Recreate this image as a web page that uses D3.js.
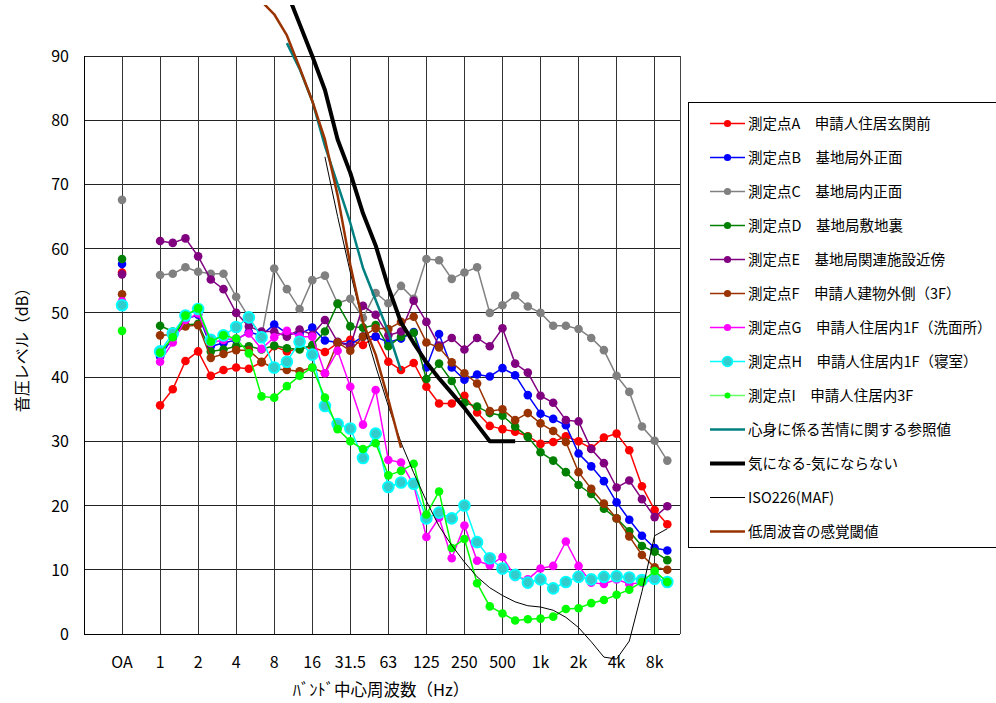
<!DOCTYPE html>
<html>
<head>
<meta charset="utf-8">
<script src="https://cdn.jsdelivr.net/npm/d3@7"></script>
<style>
  body { margin: 0; background: #fff; }
  svg { display: block; }
  text { font-family: "Noto Sans CJK JP", "Noto Sans", sans-serif; fill: #000; }
</style>
</head>
<body>
<svg id="chart" width="996" height="703"></svg>
<script>
// 1/3オクターブバンド (1Hz - 10kHz)
var bands = ["1","1.25","1.6","2","2.5","3.15","4","5","6.3","8","10","12.5","16","20","25","31.5","40","50","63","80",
  "100","125","160","200","250","315","400","500","630","800","1k","1.25k","1.6k","2k","2.5k","3.15k","4k","5k","6.3k","8k","10k"];
var tickLabels = ["OA","1","2","4","8","16","31.5","63","125","250","500","1k","2k","4k","8k"];
var yTicks = [0,10,20,30,40,50,60,70,80,90];

var seriesNames = [
  "測定点A　申請人住居玄関前",
  "測定点B　基地局外正面",
  "測定点C　基地局内正面",
  "測定点D　基地局敷地裏",
  "測定点E　基地局関連施設近傍",
  "測定点F　申請人建物外側（3F）",
  "測定点G　申請人住居内1F（洗面所）",
  "測定点H　申請人住居内1F（寝室）",
  "測定点I　申請人住居内3F"
];

// OA値
var oaValues = [56.3, 57.6, 67.6, 58.4, 56.0, 52.9, 51.8, 51.2, 47.2];

var pointA = [35.6,38.1,42.5,44.0,40.2,41.1,41.5,41.3,42.3,44.8,44.0,44.5,44.7,43.9,45.3,45.8,45.0,46.3,42.4,41.1,
  42.2,38.5,35.9,35.9,37.1,34.5,32.4,31.9,31.5,30.8,29.6,29.9,30.8,30.0,28.9,30.6,31.2,28.6,23.0,19.3,17.1];
var pointB = [43.2,46.1,49.0,49.7,44.8,45.3,45.8,47.0,46.5,48.2,46.8,46.7,47.7,45.7,45.4,45.1,46.3,46.3,45.4,46.0,
  47.0,41.5,46.7,41.5,39.6,40.4,40.1,41.4,40.3,37.2,34.3,33.5,32.5,28.1,26.1,23.8,20.5,17.8,15.3,13.4,13.0];
var pointC = [55.9,56.1,57.1,56.4,56.1,56.1,52.5,49.3,46.3,56.9,53.7,50.6,55.1,55.8,51.5,52.2,49.2,53.1,51.5,54.2,
  52.2,58.4,58.2,55.3,56.3,57.1,50.0,51.2,52.7,51.0,50.0,48.0,48.0,47.5,46.1,44.2,40.2,37.7,32.3,30.1,27.0];
var pointD = [48.0,47.1,48.1,48.3,44.0,44.3,44.8,44.8,44.3,44.9,44.5,44.3,45.0,47.1,51.4,47.9,47.7,48.1,44.8,46.3,
  46.9,39.7,42.1,39.4,36.0,35.4,34.4,34.0,32.3,30.7,28.3,27.0,25.2,23.2,21.8,19.5,18.0,16.0,13.7,12.8,11.5];
var pointE = [61.2,60.9,61.6,58.8,55.2,53.7,50.0,47.9,47.1,47.1,46.3,47.4,46.6,48.9,45.5,44.8,51.1,49.7,46.5,47.1,
  51.9,48.6,44.9,46.1,44.3,46.1,44.8,47.6,42.1,40.7,37.1,36.0,33.3,33.1,28.8,26.6,22.8,23.9,21.0,18.2,19.9];
var pointF = [46.5,46.6,47.9,48.1,43.0,43.6,44.2,44.2,42.4,41.3,41.1,40.9,41.5,40.6,45.4,44.1,46.3,47.6,47.5,48.6,
  49.4,45.4,44.6,42.3,40.6,39.0,34.7,35.0,33.3,34.4,32.8,31.6,29.9,25.2,22.6,20.3,18.0,15.2,12.3,10.4,10.0];
var pointG = [42.4,45.4,48.9,49.9,45.3,45.8,46.0,46.8,44.4,46.2,47.2,46.3,46.3,40.6,44.1,38.5,32.6,38.0,27.1,26.7,
  23.2,15.1,18.1,11.8,16.9,11.4,10.7,12.0,8.9,8.5,10.2,10.6,14.4,10.6,8.0,7.8,8.5,7.8,8.0,8.5,8.3];
var pointH = [44.0,46.8,49.6,50.6,45.8,46.5,47.8,49.3,46.2,41.5,42.4,45.5,43.5,35.5,32.7,32.0,27.4,31.2,22.9,23.6,
  23.4,18.0,18.9,18.0,20.0,14.3,11.8,10.2,9.2,8.0,8.5,7.1,8.1,8.9,8.5,8.9,9.0,8.8,8.4,8.6,8.1];
var pointI = [43.8,46.2,49.6,50.7,45.5,46.5,46.0,43.7,37.0,36.8,38.6,40.2,41.5,36.8,31.9,30.0,28.8,29.7,24.7,25.4,
  26.5,18.6,22.2,13.4,14.8,7.9,4.3,3.2,2.1,2.3,2.4,2.7,3.9,4.0,4.8,5.3,6.1,6.9,8.1,9.8,8.1];

// 参照曲線 (null = 値なし)
var _ = null;
var refComplaint = [_,_,_,_,_,_,_,_,_,_, 92,88,83,76,70,64,57,52,47,41];
var refAnnoy = [_,_,_,_,_,_,_,_,_,_, 100,95,90,84.7,77,71.8,65.5,60.5,54,48.5,45.3,42.3,39.8,37.5,35.2,32.6,30,30,30];
var refIso = [_,_,_,_,_,_,_,_,_,_,_,_,_, 74.3,65.0,56.3,48.4,41.7,35.5,29.8,25.1,20.7,16.8,13.8,11.2,8.9,7.2,6.0,5.0,
  4.4,4.2,3.7,2.6,1.0,-1.2,-3.6,-3.9,-1.1,6.6,15.3,16.4];
var refSense = [_,_,_,_,_,_,_,_, 98.5,96.5,93.2,88.2,83.0,77.0,68.3,57.5,48.5,43.5,36.5,29];

var seriesValues = [pointA, pointB, pointC, pointD, pointE, pointF, pointG, pointH, pointI];
var seriesColors = ["#ff0000","#0000ff","#808080","#008000","#800080","#993300","#ff00ff","#00ffff","#00ff00"];

var svg = d3.select("#chart");

// OA は -3、1Hz は 0 の位置
var x = d3.scaleLinear().domain([-6, 41]).range([84, 680]);
var y = d3.scaleLinear().domain([0, 90]).range([634, 56]);

var grid = svg.append("g").attr("shape-rendering", "crispEdges");

grid.selectAll("line.h").data(yTicks.slice(1)).enter().append("line")
  .attr("x1", x(-6)).attr("x2", x(41))
  .attr("y1", function(d) { return y(d); }).attr("y2", function(d) { return y(d); })
  .attr("stroke", "#222");

grid.selectAll("line.v").data(tickLabels).enter().append("line")
  .attr("x1", function(d, i) { return x(-3 + i * 3); }).attr("x2", function(d, i) { return x(-3 + i * 3); })
  .attr("y1", y(0)).attr("y2", y(90))
  .attr("stroke", "#333");

// 枠
grid.append("line").attr("x1", x(41)).attr("x2", x(41)).attr("y1", y(0)).attr("y2", y(90)).attr("stroke", "#444");
grid.append("line").attr("x1", x(-6)).attr("x2", x(-6)).attr("y1", y(0)).attr("y2", y(90)).attr("stroke", "#000");
grid.append("line").attr("x1", x(-6)).attr("x2", x(41)).attr("y1", y(0)).attr("y2", y(0)).attr("stroke", "#000");

// 軸ラベル
svg.append("g").selectAll("text").data(yTicks).enter().append("text")
  .attr("x", 69).attr("y", function(d) { return y(d) + 6; })
  .attr("text-anchor", "end").attr("font-size", 16)
  .text(function(d) { return d; });

svg.append("g").selectAll("text").data(tickLabels).enter().append("text")
  .attr("x", function(d, i) { return x(-3 + i * 3); }).attr("y", 668)
  .attr("text-anchor", "middle").attr("font-size", 16)
  .text(function(d) { return d; });

svg.append("text").attr("x", 381).attr("y", 696).attr("text-anchor", "middle")
  .attr("font-size", 16.5).text("ﾊﾞﾝﾄﾞ中心周波数（Hz）");

svg.append("text").attr("transform", "translate(28,346) rotate(-90)").attr("text-anchor", "middle")
  .attr("font-size", 16).text("音圧レベル（dB）");

// 測定データ
var line = d3.line()
  .defined(function(d) { return d != null; })
  .x(function(d, i) { return x(i); })
  .y(function(d) { return y(d); });

var plot = svg.append("g");

seriesValues.forEach(function(vals, s) {
  var g = plot.append("g");
  g.append("path").attr("d", line(vals))
    .attr("fill", "none").attr("stroke", seriesColors[s]).attr("stroke-width", 1.5);
  var pts = [[-3, oaValues[s]]].concat(vals.map(function(v, i) { return [i, v]; }));
  g.selectAll("circle").data(pts).enter().append("circle")
    .attr("cx", function(d) { return x(d[0]); })
    .attr("cy", function(d) { return y(d[1]); })
    .attr("r", s === 7 ? 5.4 : 4.3)
    .attr("fill", s === 7 ? "#33cccc" : seriesColors[s])
    .attr("stroke", s === 7 ? "#00ffff" : "none")
    .attr("stroke-width", s === 7 ? 1.8 : 0);
});

// 参照曲線
svg.append("clipPath").attr("id", "clipTop")
  .append("rect").attr("x", 0).attr("y", 5).attr("width", 996).attr("height", 698);

var refs = [
  { vals: refComplaint, color: "#008080", w: 2.5, name: "心身に係る苦情に関する参照値" },
  { vals: refAnnoy, color: "#000000", w: 4, name: "気になる-気にならない" },
  { vals: refIso, color: "#000000", w: 1, name: "ISO226(MAF)" },
  { vals: refSense, color: "#993300", w: 2.5, name: "低周波音の感覚閾値" }
];

var refG = svg.append("g").attr("clip-path", "url(#clipTop)");
refs.forEach(function(r) {
  refG.append("path").attr("d", line(r.vals))
    .attr("fill", "none").attr("stroke", r.color).attr("stroke-width", r.w)
    .attr("stroke-linejoin", "round");
});

// 凡例
var legend = svg.append("g");
legend.append("rect").attr("x", 688.5).attr("y", 102.5).attr("width", 320).attr("height", 445)
  .attr("fill", "#fff").attr("stroke", "#000").attr("shape-rendering", "crispEdges");

var items = seriesNames.map(function(n, i) { return { name: n, color: seriesColors[i], w: 1.5, marker: true, idx: i }; })
  .concat(refs.map(function(r) { return { name: r.name, color: r.color, w: r.w, marker: false }; }));

var row = legend.selectAll("g.item").data(items).enter().append("g")
  .attr("transform", function(d, i) { return "translate(0," + (123.5 + i * 34) + ")"; });

row.append("line").attr("x1", 710).attr("x2", 745).attr("y1", 0).attr("y2", 0)
  .attr("stroke", function(d) { return d.idx === 7 ? "#00ffff" : (d.idx === 8 ? "#66ff66" : d.color); })
  .attr("stroke-width", function(d) { return d.w; });

row.filter(function(d) { return d.marker; }).append("circle")
  .attr("cx", 727.5).attr("cy", 0)
  .attr("r", function(d) { return d.idx === 7 ? 5 : (d.idx === 8 ? 3 : 3.6); })
  .attr("fill", function(d) { return d.idx === 7 ? "#33cccc" : d.color; })
  .attr("stroke", function(d) { return d.idx === 7 ? "#00ffff" : "none"; })
  .attr("stroke-width", 1.6);

row.append("text").attr("x", 748).attr("y", 5).attr("font-size", 14.5)
  .text(function(d) { return d.name; });
</script>
</body>
</html>
